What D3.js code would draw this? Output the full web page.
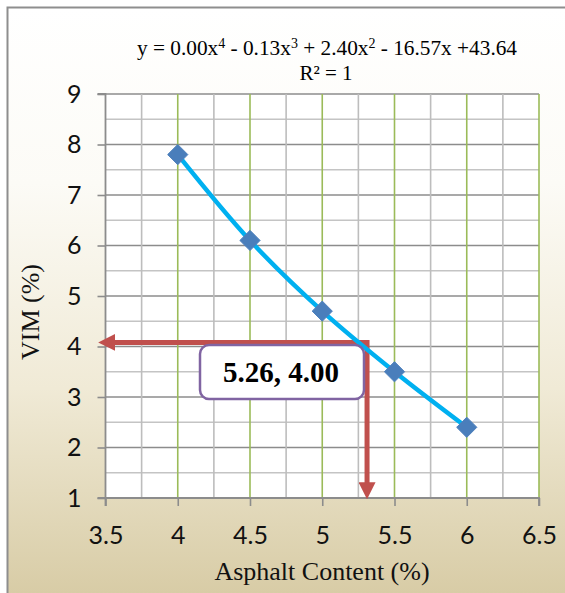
<!DOCTYPE html>
<html>
<head>
<meta charset="utf-8">
<script src="https://cdn.jsdelivr.net/npm/d3@7"></script>
<style>
  html, body { margin: 0; padding: 0; background: #fff; }
  svg { display: block; }
</style>
</head>
<body>
<svg id="chart" width="565" height="593"></svg>
<script>
// ---- data ----
const asphalt = [4, 4.5, 5, 5.5, 6];
const vim = [7.8, 6.1, 4.7, 3.5, 2.4];
const xTicks = [3.5, 4, 4.5, 5, 5.5, 6, 6.5];
const yTicks = [1, 2, 3, 4, 5, 6, 7, 8, 9];
const xMinor = [3.75, 4.25, 4.75, 5.25, 5.75, 6.25];
const yMinor = [1.5, 2.5, 3.5, 4.5, 5.5, 6.5, 7.5, 8.5];
const readX = [5.31];      // vertical arrow position (as drawn)
const readY = [4.08];      // horizontal arrow position (as drawn)
const readLabel = ["5.26, 4.00"];
const equation = ["y = 0.00x", "4", " - 0.13x", "3", " + 2.40x", "2", " - 16.57x +43.64"];
const rSquared = "R² = 1";
const xTitle = "Asphalt Content (%)";
const yTitle = "VIM (%)";

// ---- layout ----
const svg = d3.select("#chart");
const W = 565, H = 593;
const plot = { left: 105.5, right: 539, top: 94, bottom: 498 };
const serif = "'Liberation Serif', 'Times New Roman', serif";

const x = d3.scaleLinear().domain([3.5, 6.5]).range([plot.left, plot.right]);
const y = d3.scaleLinear().domain([1, 9]).range([plot.bottom, plot.top]);

// background gradient
const defs = svg.append("defs");
const grad = defs.append("linearGradient").attr("id", "bg")
  .attr("x1", 0).attr("y1", 0).attr("x2", 0).attr("y2", 1);
grad.append("stop").attr("offset", "0%").attr("stop-color", "#ffffff");
grad.append("stop").attr("offset", "30%").attr("stop-color", "#fcfbf6");
grad.append("stop").attr("offset", "65%").attr("stop-color", "#f0ead6");
grad.append("stop").attr("offset", "100%").attr("stop-color", "#d8cca6");

svg.append("rect").attr("x", 8).attr("y", 8).attr("width", W - 8).attr("height", H - 8)
  .attr("fill", "url(#bg)");
// frame (left + top)
svg.append("path").attr("d", `M7.5,${H} V7.5 H${W}`)
  .attr("fill", "none").attr("stroke", "#8e8e8e").attr("stroke-width", 2);

// plot area
svg.append("rect").attr("x", plot.left).attr("y", plot.top)
  .attr("width", plot.right - plot.left).attr("height", plot.bottom - plot.top)
  .attr("fill", "#ffffff");

const g = svg.append("g");

// minor horizontal grid
g.selectAll(".hmin").data(yMinor).join("line")
  .attr("x1", plot.left).attr("x2", plot.right)
  .attr("y1", d => y(d)).attr("y2", d => y(d))
  .attr("stroke", "#c4c4c4").attr("stroke-width", 1.6);
// major horizontal grid
g.selectAll(".hmaj").data(yTicks).join("line")
  .attr("x1", plot.left).attr("x2", plot.right)
  .attr("y1", d => y(d)).attr("y2", d => y(d))
  .attr("stroke", "#8c8c8c").attr("stroke-width", 1.6);
// minor vertical grid
g.selectAll(".vmin").data(xMinor).join("line")
  .attr("x1", d => x(d)).attr("x2", d => x(d))
  .attr("y1", plot.top).attr("y2", plot.bottom)
  .attr("stroke", "#bdbdbd").attr("stroke-width", 1.6);
// major vertical grid (green)
g.selectAll(".vmaj").data(xTicks.slice(1)).join("line")
  .attr("x1", d => x(d)).attr("x2", d => x(d))
  .attr("y1", plot.top).attr("y2", plot.bottom)
  .attr("stroke", "#9bbb59").attr("stroke-width", 1.6);

// axes
const yAxis = d3.axisLeft(y).tickValues(yTicks).tickSize(8).tickPadding(16).tickFormat(d3.format("d"));
const xAxis = d3.axisBottom(x).tickValues(xTicks).tickSize(8).tickPadding(20).tickFormat(d => String(d));

const ya = svg.append("g").attr("transform", `translate(${plot.left},0)`).call(yAxis);
const xa = svg.append("g").attr("transform", `translate(0,${plot.bottom})`).call(xAxis);
[ya, xa].forEach(a => {
  a.attr("font-size", null).attr("font-family", null);
  a.select(".domain").attr("stroke", "#8c8c8c").attr("stroke-width", 1.8);
  a.selectAll(".tick line").attr("stroke", "#8c8c8c").attr("stroke-width", 1.6);
  a.selectAll("text").style("font-family", "Lato, 'Open Sans', sans-serif")
    .style("font-size", "25px").attr("fill", "#111");
});
ya.select(".domain").attr("d", `M-8,${plot.top}H0V${plot.bottom}H-8`);
xa.select(".domain").attr("d", `M${plot.left},8V0H${plot.right}V8`);

// reading arrows
const red = "#c0504d";
defs.append("marker").attr("id", "ah").attr("viewBox", "0 0 10 10")
  .attr("refX", 1).attr("refY", 5).attr("markerWidth", 3.4).attr("markerHeight", 3.4)
  .attr("markerUnits", "strokeWidth").attr("orient", "auto")
  .append("path").attr("d", "M0,0 L10,5 L0,10 Z").attr("fill", red);

const ax = x(readX[0]), ay = y(readY[0]);
svg.append("path")
  .attr("d", `M${ax},${ay} H${plot.left + 8}`)
  .attr("fill", "none").attr("stroke", red).attr("stroke-width", 5)
  .attr("marker-end", "url(#ah)");
svg.append("path")
  .attr("d", `M${ax},${ay - 2.5} V${plot.bottom - 14}`)
  .attr("fill", "none").attr("stroke", red).attr("stroke-width", 5)
  .attr("marker-end", "url(#ah)");

// fitted curve
const pts = asphalt.map((d, i) => [d, vim[i]]);
const line = d3.line().x(d => x(d[0])).y(d => y(d[1])).curve(d3.curveCatmullRom.alpha(0.5));
svg.append("path").datum(pts).attr("d", line)
  .attr("fill", "none").attr("stroke", "#00b0f0").attr("stroke-width", 4.5)
  .attr("stroke-linecap", "round");

// markers
svg.selectAll(".pt").data(pts).join("path")
  .attr("transform", d => `translate(${x(d[0])},${y(d[1])})`)
  .attr("d", d3.symbol(d3.symbolDiamond2, 260))
  .attr("fill", "#4a7ebb").attr("stroke", "#4f81bd").attr("stroke-width", 1);

// label box
svg.append("rect").attr("x", 200).attr("y", 345).attr("width", 164).attr("height", 54)
  .attr("rx", 9).attr("fill", "#ffffff").attr("stroke", "#8064a2").attr("stroke-width", 2.5);
svg.append("text").attr("x", 281).attr("y", 382)
  .attr("text-anchor", "middle").attr("font-family", serif)
  .attr("font-weight", "bold").attr("font-size", 29).attr("fill", "#000")
  .text(readLabel[0]);

// equation
const eq = svg.append("text").attr("x", 327).attr("y", 55).attr("text-anchor", "middle")
  .attr("font-family", serif).attr("font-size", 21.3).attr("fill", "#000");
equation.forEach((s, i) => {
  const sup = i % 2 === 1;
  eq.append("tspan").attr("font-size", sup ? 14 : 21.3).attr("dy", sup ? -7 : (i > 0 ? 7 : 0)).text(s);
});
svg.append("text").attr("x", 326).attr("y", 80).attr("text-anchor", "middle")
  .attr("font-family", serif).attr("font-size", 21).attr("fill", "#000")
  .text(rSquared);

// axis titles
svg.append("text").attr("x", 322).attr("y", 580).attr("text-anchor", "middle")
  .attr("font-family", serif).attr("font-size", 26).attr("fill", "#111")
  .text(xTitle);
svg.append("text").attr("transform", `translate(39,312) rotate(-90)`)
  .attr("text-anchor", "middle")
  .attr("font-family", serif).attr("font-size", 26).attr("fill", "#111")
  .text(yTitle);
</script>
</body>
</html>
